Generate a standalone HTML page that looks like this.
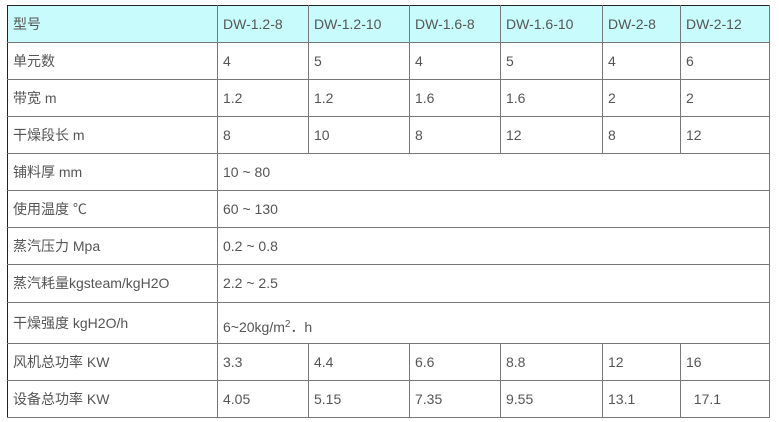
<!DOCTYPE html>
<html><head><meta charset="utf-8"><style>
body{margin:0;width:779px;height:422px;background:#fff;position:relative;font-family:"Liberation Sans","Noto Sans CJK SC",sans-serif;font-size:14px;color:#555;overflow:hidden}
.c{position:absolute;box-sizing:border-box;border-right:1px solid #777;border-bottom:1px solid #777;padding-left:6px;display:flex;align-items:center;white-space:nowrap}
#t{position:absolute;left:7px;top:5px;width:763px;height:413px;border:1px solid #222;box-sizing:border-box}
</style></head><body>
<div style="position:absolute;left:7px;top:5px;width:762px;height:37px;background:#c8fcfc"></div>
<div id="t"></div>
<script>
const xs=[7,217,308,409,500,602,680,769];
const ys=[5,42,79,116,153,190,227,264,302,343,380,417];
const rows=[
["型号","DW-1.2-8","DW-1.2-10","DW-1.6-8","DW-1.6-10","DW-2-8","DW-2-12"],
["单元数","4","5","4","5","4","6"],
["带宽 m","1.2","1.2","1.6","1.6","2","2"],
["干燥段长 m","8","10","8","12","8","12"],
["铺料厚 mm","10 ~ 80"],
["使用温度 ℃","60 ~ 130"],
["蒸汽压力 Mpa","0.2 ~ 0.8"],
["蒸汽耗量kgsteam/kgH2O","2.2 ~ 2.5"],
["干燥强度 kgH2O/h","6~20kg/m<sup style='font-size:10px;position:relative;top:-2px'>2</sup>．h"],
["风机总功率 KW","3.3","4.4","6.6","8.8","12","16"],
["设备总功率 KW","4.05","5.15","7.35","9.55","13.1","&nbsp;&nbsp;17.1"]];
let h="";
rows.forEach((r,i)=>{
 r.forEach((t,j)=>{
  let x0=xs[j],x1=(r.length==2&&j==1)?xs[7]:xs[j+1];
  let pt=(i==8&&j==1)?"padding-top:8px;":"";
  h+=`<div class="c" style="left:${x0}px;top:${ys[i]}px;width:${x1-x0+1}px;height:${ys[i+1]-ys[i]+1}px;${pt}">${t}</div>`;
 });
});
document.body.insertAdjacentHTML("beforeend",h);
</script>
</body></html>
